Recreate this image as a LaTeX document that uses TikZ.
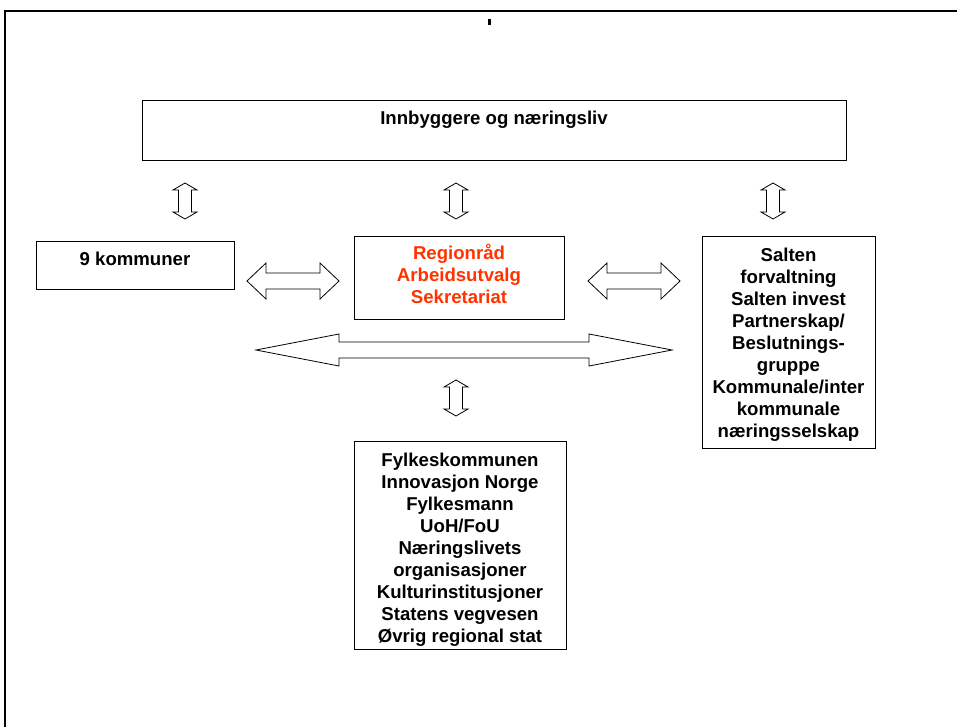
\documentclass[tikz,border=0pt]{standalone}
\usepackage{fontspec}
\setmainfont{Liberation Sans}
\definecolor{regred}{RGB}{255,51,0}
\tikzset{
  box/.style={draw=black, line width=1pt, fill=white, inner sep=0pt, anchor=north west},
  lbl/.style={font=\bfseries\fontsize{18.6}{22}\selectfont, align=center, anchor=base, inner sep=0pt},
  blockarrow/.style={draw=black, line width=0.8pt, fill=white, line join=miter},
  pics/vdarrow/.style={code={\draw[blockarrow] (0,-18) -- (12,-11) -- (6.5,-11) -- (6.5,11) -- (12,11) -- (0,18) -- (-12,11) -- (-6.5,11) -- (-6.5,-11) -- (-12,-11) -- cycle;}},
  pics/hdarrow/.style={code={\draw[blockarrow] (-46,0) -- (-27,-18) -- (-27,-8) -- (27,-8) -- (27,-18) -- (46,0) -- (27,18) -- (27,8) -- (-27,8) -- (-27,18) -- cycle;}},
  pics/bigarrow/.style={code={\draw[blockarrow] (-208,0) -- (-125,-16) -- (-125,-8) -- (125,-8) -- (125,-16) -- (208,0) -- (125,16) -- (125,8) -- (-125,8) -- (-125,16) -- cycle;}}
}
\begin{document}
\begin{tikzpicture}[x=1pt,y=-1pt]
\useasboundingbox (0,0) rectangle (957,726);
\fill[white] (0,0) rectangle (957,726);
% frame
\draw[line width=2pt] (5,727) -- (5,11) -- (958,11);
\fill (488,19) rectangle (491,25);
% boxes
\node[box, minimum width=704, minimum height=60] (pub) at (142,100) {};
\node[lbl] (pubt) at (494,124) {Innbyggere og næringsliv};
\node[box, minimum width=198, minimum height=48] (kom) at (36,241) {};
\node[lbl] (komt) at (135,265) {9 kommuner};
\node[box, minimum width=210, minimum height=83] (reg) at (354,236) {};
\node[lbl, text=regred] (regt) at (459,303) {Regionråd\\Arbeidsutvalg\\Sekretariat};
\node[box, minimum width=173, minimum height=212] (sal) at (702,236) {};
\node[lbl] (salt) at (788.5,437) {Salten\\forvaltning\\Salten invest\\Partnerskap/\\Beslutnings-\\gruppe\\Kommunale/inter\\kommunale\\næringsselskap};
\node[box, minimum width=212, minimum height=208] (fyl) at (354,441) {};
\node[lbl] (fylt) at (460,642) {Fylkeskommunen\\Innovasjon Norge\\Fylkesmann\\UoH/FoU\\Næringslivets\\organisasjoner\\Kulturinstitusjoner\\Statens vegvesen\\Øvrig regional stat};
% arrows
\pic at (185,201) {vdarrow};
\pic at (456,201) {vdarrow};
\pic at (773,201) {vdarrow};
\pic at (456,398) {vdarrow};
\pic at (293,281) {hdarrow};
\pic at (634,281) {hdarrow};
\pic at (464,350) {bigarrow};
\end{tikzpicture}
\end{document}
